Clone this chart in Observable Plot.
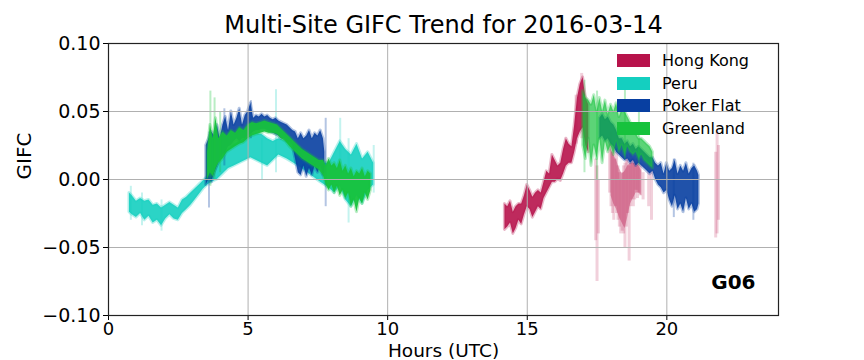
<!DOCTYPE html>
<html>
<head>
<meta charset="utf-8">
<script src="https://cdn.jsdelivr.net/npm/d3@7"></script>
<script src="https://cdn.jsdelivr.net/npm/@observablehq/plot@0.6"></script>
<style>
  html, body { margin: 0; padding: 0; background: #fff; }
  #wrap { position: relative; width: 864px; height: 360px; overflow: hidden; font-family: "DejaVu Sans", sans-serif; }
  #legend { position: absolute; left: 617px; top: 49px; font-size: 16px; color: #000; }
  .row { display: flex; align-items: center; height: 22.7px; }
  .sw { width: 33px; height: 13px; margin-right: 12px; }
</style>
</head>
<body>
<div id="wrap"><div id="legend"></div></div>
<script>
// ---- data (hours UTC, GIFC low, GIFC high) ----
const sites = ["Hong Kong", "Peru", "Poker Flat", "Greenland"];
const title = "Multi-Site GIFC Trend for 2016-03-14";
const satellite = "G06";
const xTicks = [0, 5, 10, 15, 20];
const yTicks = [-0.10, -0.05, 0.00, 0.05, 0.10];

const hongKong = [
  [14.2,-0.037,-0.018],[14.3,-0.035,-0.020],[14.4,-0.032,-0.016],[14.5,-0.040,-0.024],
  [14.6,-0.036,-0.020],[14.7,-0.030,-0.018],[14.8,-0.033,-0.018],[14.9,-0.026,-0.012],
  [15.0,-0.020,-0.004],[15.1,-0.022,-0.008],[15.2,-0.028,-0.013],[15.3,-0.024,-0.010],
  [15.4,-0.020,-0.008],[15.5,-0.022,-0.010],[15.6,-0.014,-0.002],[15.7,-0.010,0.006],
  [15.8,-0.006,0.004],[15.9,-0.002,0.018],[16.0,-0.002,0.014],[16.1,0.000,0.010],
  [16.2,-0.001,0.012],[16.3,0.004,0.022],[16.4,0.010,0.030],[16.5,0.012,0.026],
  [16.6,0.012,0.024],[16.7,0.020,0.040],[16.8,0.030,0.060],[16.9,0.035,0.070],
  [17.0,0.038,0.075],[17.1,0.025,0.060],[17.2,0.020,0.055]
];
const hongKongCloud = [
  [18.0,-0.012,0.022],[18.1,-0.018,0.018],[18.2,-0.022,0.014],[18.3,-0.028,0.008],
  [18.4,-0.032,0.004],[18.5,-0.036,0.006],[18.6,-0.028,0.010],[18.7,-0.018,0.012],
  [18.8,-0.014,0.012],[18.9,-0.010,0.012],[19.0,-0.010,0.010],[19.1,-0.012,0.006]
];
const hongKongSpray = [
  [16.75,0.026,0.062],[16.95,0.030,0.078],[17.45,-0.045,0.015],[17.5,-0.075,0.010],[17.55,-0.040,0.000],
  [17.95,-0.010,0.030],[18.0,-0.020,0.035],[18.05,-0.025,0.020],[18.1,-0.030,0.025],
  [18.15,-0.020,0.015],[18.2,-0.025,0.020],[18.25,-0.030,0.010],[18.3,-0.035,0.005],
  [18.35,-0.040,0.000],[18.4,-0.038,0.005],[18.45,-0.040,0.010],[18.5,-0.050,0.012],
  [18.55,-0.035,0.018],[18.6,-0.025,0.015],[18.65,-0.060,0.010],[18.7,-0.020,0.020],
  [18.75,-0.015,0.015],[18.8,-0.020,0.016],[18.85,-0.015,0.012],[18.9,-0.008,0.015],
  [18.95,-0.014,0.018],[19.0,-0.010,0.012],[19.05,-0.012,0.010],[19.15,-0.015,0.005],
  [19.35,-0.020,0.015],[19.45,-0.030,0.010],
  [21.75,-0.043,0.020],[21.8,-0.040,0.035],[21.85,-0.030,0.025]
];
const peru = [
  [0.75,-0.024,-0.010],[0.85,-0.026,-0.012],[1.0,-0.028,-0.016],[1.15,-0.025,-0.014],
  [1.3,-0.030,-0.016],[1.45,-0.027,-0.015],[1.6,-0.032,-0.019],[1.75,-0.030,-0.018],
  [1.9,-0.034,-0.021],[2.05,-0.029,-0.019],[2.2,-0.026,-0.017],[2.35,-0.029,-0.019],
  [2.5,-0.030,-0.021],[2.65,-0.025,-0.015],[2.8,-0.022,-0.013],[2.95,-0.019,-0.010],
  [3.1,-0.015,-0.007],[3.25,-0.011,-0.004],[3.4,-0.007,-0.001],[3.55,-0.004,0.002],
  [3.7,-0.002,0.006],[3.9,0.000,0.012],[4.1,0.004,0.018],[4.3,0.008,0.022],
  [4.5,0.010,0.026],[4.7,0.012,0.028],[4.9,0.014,0.030],[5.1,0.016,0.032],
  [5.3,0.014,0.034],[5.5,0.012,0.033],[5.7,0.010,0.030],[5.9,0.014,0.028],
  [6.1,0.018,0.030],[6.4,0.015,0.028],[6.8,0.010,0.024],[7.2,0.004,0.018],
  [7.6,-0.002,0.012],[7.9,-0.006,0.012],[8.1,-0.010,0.020],[8.3,-0.005,0.028],
  [8.5,-0.015,0.022],[8.7,-0.020,0.018],[8.9,-0.012,0.026],[9.1,-0.018,0.015],
  [9.3,-0.008,0.020],[9.5,-0.004,0.012]
];
const peruSpray = [
  [0.8,-0.030,-0.005],[1.2,-0.034,-0.010],[1.9,-0.038,-0.015],
  [5.5,0.000,0.030],[6.0,0.005,0.066],[8.3,-0.005,0.045],[8.6,-0.032,0.030],[9.5,-0.010,0.025]
];
const pokerFlat1 = [
  [3.5,-0.004,0.025],[3.6,0.000,0.030],[3.7,-0.002,0.035],[3.8,0.005,0.032],
  [3.9,0.010,0.040],[4.0,0.015,0.030],[4.1,0.018,0.040],[4.2,0.020,0.046],
  [4.3,0.024,0.036],[4.4,0.025,0.050],[4.5,0.028,0.040],[4.6,0.030,0.045],
  [4.7,0.028,0.052],[4.8,0.030,0.040],[4.9,0.030,0.047],[5.0,0.032,0.050],
  [5.1,0.033,0.056],[5.2,0.035,0.045],[5.3,0.036,0.047],[5.4,0.036,0.046],
  [5.5,0.037,0.048],[5.6,0.037,0.046],[5.7,0.036,0.047],[5.8,0.035,0.045],
  [5.9,0.034,0.044],[6.0,0.033,0.045],[6.1,0.032,0.043],[6.2,0.030,0.042],
  [6.3,0.030,0.041],[6.4,0.028,0.040],[6.5,0.027,0.038],[6.6,0.025,0.036],
  [6.7,0.015,0.035],[6.8,0.005,0.030],[6.9,0.003,0.034],[7.0,0.010,0.030],
  [7.1,0.002,0.032],[7.2,0.008,0.036],[7.3,0.003,0.030],[7.4,0.010,0.034],
  [7.5,0.005,0.032],[7.6,0.010,0.036],[7.7,0.003,0.030],[7.75,0.005,0.020]
];
const pokerFlat2 = [
  [17.6,0.030,0.045],[17.7,0.032,0.048],[17.8,0.028,0.044],[17.9,0.030,0.046],
  [18.0,0.026,0.042],[18.1,0.024,0.040],[18.2,0.020,0.036],[18.3,0.018,0.030],
  [18.4,0.016,0.030],[18.5,0.014,0.026],[18.6,0.015,0.028],[18.7,0.012,0.024],
  [18.8,0.014,0.026],[18.9,0.010,0.022],[19.0,0.012,0.024],[19.1,0.010,0.022],
  [19.2,0.008,0.020],[19.3,0.006,0.018],[19.4,0.004,0.016],[19.5,0.006,0.016],
  [19.6,0.000,0.012],[19.7,-0.004,0.010],[19.8,-0.006,0.012],[19.9,-0.010,0.004],
  [20.0,-0.008,0.012],[20.1,-0.015,0.006],[20.2,-0.020,0.008],[20.3,-0.012,0.014],
  [20.4,-0.022,0.004],[20.5,-0.018,0.010],[20.6,-0.024,0.006],[20.7,-0.014,0.012],
  [20.8,-0.022,0.004],[20.9,-0.018,0.008],[21.0,-0.024,0.010],[21.1,-0.022,0.006],
  [21.15,-0.018,0.003]
];
const pokerFlatSpray = [
  [3.6,-0.021,0.035],[4.15,0.010,0.052],[5.1,0.030,0.058],[7.78,-0.020,0.045],
  [20.25,-0.028,0.015],[20.95,-0.030,0.012]
];
const greenland1 = [
  [3.55,0.000,0.020],[3.65,0.005,0.040],[3.75,0.002,0.030],[3.85,0.008,0.045],
  [3.95,0.012,0.030],[4.1,0.015,0.035],[4.25,0.020,0.032],[4.4,0.022,0.036],
  [4.55,0.024,0.034],[4.7,0.026,0.038],[4.85,0.027,0.036],[5.0,0.030,0.040],
  [5.15,0.032,0.042],[5.3,0.033,0.041],[5.45,0.034,0.042],[5.6,0.035,0.043],
  [5.75,0.034,0.042],[5.9,0.034,0.041],[6.05,0.033,0.040],[6.2,0.030,0.037],
  [6.35,0.028,0.034],[6.5,0.024,0.031],[6.65,0.021,0.028],[6.8,0.018,0.025],
  [6.95,0.015,0.022],[7.1,0.013,0.020],[7.25,0.011,0.018],[7.4,0.009,0.016],
  [7.55,0.007,0.014],[7.7,0.003,0.014],[7.8,-0.004,0.010],[7.9,-0.008,0.015],
  [8.0,-0.004,0.010],[8.1,-0.010,0.012],[8.2,-0.005,0.008],[8.3,-0.012,0.014],
  [8.4,-0.008,0.006],[8.5,-0.014,0.010],[8.6,-0.010,0.004],[8.7,-0.020,0.008],
  [8.8,-0.015,0.002],[8.9,-0.024,0.006],[9.0,-0.014,0.004],[9.1,-0.018,0.008],
  [9.2,-0.010,0.002],[9.3,-0.015,0.006],[9.4,-0.008,0.004]
];
const greenland2 = [
  [17.0,0.025,0.065],[17.1,0.015,0.060],[17.2,0.030,0.058],[17.3,0.010,0.055],
  [17.4,0.025,0.062],[17.5,0.015,0.050],[17.6,0.030,0.060],[17.7,0.012,0.050],
  [17.8,0.028,0.058],[17.9,0.020,0.048],[18.0,0.025,0.055],[18.1,0.018,0.050],
  [18.2,0.028,0.056],[18.3,0.020,0.046],[18.4,0.025,0.052],[18.5,0.018,0.050],
  [18.6,0.024,0.046],[18.7,0.020,0.042],[18.8,0.018,0.036],[18.9,0.020,0.034],
  [19.0,0.015,0.030],[19.1,0.018,0.030],[19.2,0.014,0.028],[19.3,0.012,0.026],
  [19.4,0.010,0.024],[19.5,0.008,0.020]
];
const greenlandSpray = [
  [3.65,-0.005,0.065],[3.8,0.000,0.060],[4.0,0.005,0.050],
  [17.05,0.005,0.073],[17.5,0.000,0.065],[18.5,0.015,0.073],[19.0,0.010,0.050]
];

// ---- styling ----
const colors = ["#b7134b", "#14cfc0", "#083fa1", "#17c23d"];
const col = Object.fromEntries(sites.map((s, i) => [s, colors[i]]));
const X = d => d[0], Y1 = d => d[1], Y2 = d => d[2];

function band(data, c, op) {
  return Plot.areaY(data, {x: X, y1: Y1, y2: Y2, fill: c, fillOpacity: op,
    stroke: c, strokeOpacity: 0.3, strokeWidth: 3, curve: "linear"});
}
function spray(data, c, op, w) {
  return Plot.ruleX(data, {x: X, y1: Y1, y2: Y2, stroke: c, strokeOpacity: op, strokeWidth: w});
}

const chart = Plot.plot({
  width: 864, height: 360,
  marginLeft: 108, marginRight: 86, marginTop: 43, marginBottom: 45,
  style: {fontFamily: "DejaVu Sans, sans-serif", fontSize: "18px", color: "#000", background: "transparent", overflow: "visible"},
  x: {domain: [0, 24]},
  y: {domain: [-0.1, 0.1]},
  marks: [
    band(hongKong, col["Hong Kong"], 0.9),
    spray(hongKongSpray, col["Hong Kong"], 0.2, 3),
    Plot.areaY(hongKongCloud, {x: X, y1: Y1, y2: Y2, fill: col["Hong Kong"], fillOpacity: 0.35, curve: "linear"}),
    band(peru, col["Peru"], 0.9),
    spray(peruSpray, col["Peru"], 0.25, 2),
    band(pokerFlat1, col["Poker Flat"], 0.9),
    band(pokerFlat2, col["Poker Flat"], 0.9),
    spray(pokerFlatSpray, col["Poker Flat"], 0.3, 2),
    band(greenland1, col["Greenland"], 0.95),
    band(greenland2, col["Greenland"], 0.7),
    spray(greenlandSpray, col["Greenland"], 0.3, 2),
    Plot.gridX(xTicks, {stroke: "#b0b0b0", strokeOpacity: 1, strokeWidth: 1}),
    Plot.gridY(yTicks, {stroke: "#b0b0b0", strokeOpacity: 1, strokeWidth: 1}),
    Plot.axisX(xTicks, {tickSize: 5, tickPadding: 2, fontSize: 18, label: null, stroke: "#000"}),
    Plot.axisY(yTicks, {tickSize: 5, tickPadding: 3, fontSize: 19, label: null, tickFormat: ".2f", stroke: "#000"}),
    Plot.frame({stroke: "#222", strokeWidth: 1.2}),
    Plot.text([title], {frameAnchor: "top", dy: -18, fontSize: 24, lineAnchor: "middle", fill: "#000"}),
    Plot.text(["Hours (UTC)"], {frameAnchor: "bottom", dy: 35.5, fontSize: 18.5, lineAnchor: "middle", fill: "#000"}),
    Plot.text(["GIFC"], {frameAnchor: "left", dx: -84, rotate: -90, fontSize: 20, lineAnchor: "middle", fill: "#000"}),
    Plot.text([satellite], {frameAnchor: "bottom-right", dx: -23, dy: -33, fontSize: 20, fontWeight: "bold", textAnchor: "end", lineAnchor: "middle", fill: "#000"})
  ]
});
const wrap = document.getElementById("wrap");
wrap.insertBefore(chart, wrap.firstChild);

const legend = document.getElementById("legend");
sites.forEach(s => {
  const row = document.createElement("div");
  row.className = "row";
  const sw = document.createElement("div");
  sw.className = "sw";
  sw.style.background = col[s];
  const t = document.createElement("span");
  t.textContent = s;
  row.appendChild(sw); row.appendChild(t);
  legend.appendChild(row);
});
</script>
</body>
</html>
